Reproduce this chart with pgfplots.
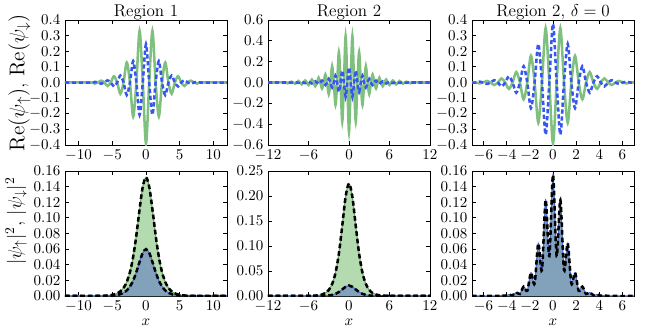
\RequirePackage{fix-cm}
\documentclass[border=0pt]{standalone}
\usepackage{pgfplots}
\pgfplotsset{compat=1.18}
\usepackage{pgfplotstable}

\definecolor{gline}{RGB}{127,192,127}
\definecolor{bline}{RGB}{55,85,240}
\definecolor{gfill}{RGB}{180,218,176}
\definecolor{bfill}{RGB}{130,162,188}
\definecolor{gedge}{RGB}{90,170,90}
\definecolor{bedge}{RGB}{70,105,215}

% Re(psi_up), Re(psi_down) -- region 1
\pgfplotstableread{
x g b
-12 0 0
-8.075 0 0
-7.6 -0.007 0.004
-7.125 0 0
-6.65 0.012 -0.008
-6.175 0 0
-5.7 -0.022 0.014
-5.225 0 0
-4.75 0.040 -0.025
-4.275 0 0
-3.8 -0.072 0.045
-3.325 0 0
-2.85 0.128 -0.080
-2.375 0 0
-1.9 -0.218 0.137
-1.425 0 0
-0.95 0.330 -0.207
-0.475 0 0
0 -0.390 0.245
0.475 0 0
0.95 0.330 -0.207
1.425 0 0
1.9 -0.218 0.137
2.375 0 0
2.85 0.128 -0.080
3.325 0 0
3.8 -0.072 0.045
4.275 0 0
4.75 0.040 -0.025
5.225 0 0
5.7 -0.022 0.014
6.175 0 0
6.65 0.012 -0.008
7.125 0 0
7.6 -0.007 0.004
8.075 0 0
12 0 0
}\wA

% region 2
\pgfplotstableread{
x g b
-12 0 0
-9.25 0 0
-9.0 -0.005 0.001
-8.75 0 0
-8.5 0.008 -0.002
-8.25 0 0
-8.0 -0.011 0.003
-7.75 0 0
-7.5 0.014 -0.004
-7.25 0 0
-7.0 -0.017 0.005
-6.75 0 0
-6.5 0.020 -0.006
-6.25 0 0
-6.0 -0.024 0.007
-5.75 0 0
-5.5 0.028 -0.009
-5.25 0 0
-5.0 -0.035 0.011
-4.75 0 0
-4.5 0.045 -0.014
-4.25 0 0
-4.0 -0.058 0.018
-3.75 0 0
-3.5 0.077 -0.024
-3.25 0 0
-3.0 -0.110 0.034
-2.75 0 0
-2.5 0.155 -0.047
-2.25 0 0
-2.0 -0.215 0.066
-1.75 0 0
-1.5 0.291 -0.089
-1.25 0 0
-1.0 -0.374 0.115
-0.75 0 0
-0.5 0.445 -0.136
-0.25 0 0
0 -0.474 0.145
0.25 0 0
0.5 0.445 -0.136
0.75 0 0
1.0 -0.374 0.115
1.25 0 0
1.5 0.291 -0.089
1.75 0 0
2.0 -0.215 0.066
2.25 0 0
2.5 0.155 -0.047
2.75 0 0
3.0 -0.110 0.034
3.25 0 0
3.5 0.077 -0.024
3.75 0 0
4.0 -0.058 0.018
4.25 0 0
4.5 0.045 -0.014
4.75 0 0
5.0 -0.035 0.011
5.25 0 0
5.5 0.028 -0.009
5.75 0 0
6.0 -0.024 0.007
6.25 0 0
6.5 0.020 -0.006
6.75 0 0
7.0 -0.017 0.005
7.25 0 0
7.5 0.014 -0.004
7.75 0 0
8.0 -0.011 0.003
8.25 0 0
8.5 0.008 -0.002
8.75 0 0
9.0 -0.005 0.001
9.25 0 0
12 0 0
}\wB

% region 2, delta = 0
\pgfplotstableread{
x g b
-7 0 0
-6.6675 0 0
-6.35 -0.006 0.006
-6.0325 0 0
-5.715 0.010 -0.009
-5.3975 0 0
-5.08 -0.016 0.015
-4.7625 0 0
-4.445 0.026 -0.025
-4.1275 0 0
-3.81 -0.041 0.040
-3.4925 0 0
-3.175 0.067 -0.065
-2.8575 0 0
-2.54 -0.108 0.104
-2.2225 0 0
-1.905 0.171 -0.164
-1.5875 0 0
-1.27 -0.257 0.247
-0.9525 0 0
-0.635 0.348 -0.334
-0.3175 0 0
0 -0.390 0.375
0.3175 0 0
0.635 0.348 -0.334
0.9525 0 0
1.27 -0.257 0.247
1.5875 0 0
1.905 0.171 -0.164
2.2225 0 0
2.54 -0.108 0.104
2.8575 0 0
3.175 0.067 -0.065
3.4925 0 0
3.81 -0.041 0.040
4.1275 0 0
4.445 0.026 -0.025
4.7625 0 0
5.08 -0.016 0.015
5.3975 0 0
5.715 0.010 -0.009
6.0325 0 0
6.35 -0.006 0.006
6.6675 0 0
7 0 0
}\wC

% densities
\pgfplotstableread{
x g b
-12 0 0
-7.0 0.0001 0
-6.0 0.0004 0.0002
-5.5 0.0008 0.0003
-5.0 0.0014 0.0006
-4.5 0.0026 0.0010
-4.0 0.0047 0.0019
-3.5 0.0085 0.0034
-3.0 0.0152 0.0060
-2.5 0.0267 0.0106
-2.0 0.0454 0.0179
-1.5 0.0731 0.0288
-1.0 0.1075 0.0424
-0.5 0.1388 0.0548
0 0.152 0.060
0.5 0.1388 0.0548
1.0 0.1075 0.0424
1.5 0.0731 0.0288
2.0 0.0454 0.0179
2.5 0.0267 0.0106
3.0 0.0152 0.0060
3.5 0.0085 0.0034
4.0 0.0047 0.0019
4.5 0.0026 0.0010
5.0 0.0014 0.0006
5.5 0.0008 0.0003
6.0 0.0004 0.0002
7.0 0.0001 0
12 0 0
}\dA

\pgfplotstableread{
x g b
-12 0 0
-6.0 0.0001 0
-5.5 0.0003 0
-5.0 0.0007 0
-4.5 0.0014 0.0001
-4.0 0.0029 0.0003
-3.5 0.0060 0.0006
-3.0 0.0120 0.0011
-2.5 0.0239 0.0022
-2.0 0.0462 0.0043
-1.5 0.0846 0.0079
-1.0 0.1404 0.0131
-0.5 0.1986 0.0185
0 0.225 0.021
0.5 0.1986 0.0185
1.0 0.1404 0.0131
1.5 0.0846 0.0079
2.0 0.0462 0.0043
2.5 0.0239 0.0022
3.0 0.0120 0.0011
3.5 0.0060 0.0006
4.0 0.0029 0.0003
4.5 0.0014 0.0001
5.0 0.0007 0
5.5 0.0003 0
6.0 0.0001 0
12 0 0
}\dB

\pgfplotstableread{
x d
-7 0
-5.5 0
-5.08 0.0002
-4.7625 0.0001
-4.445 0.0007
-4.1275 0.0004
-3.81 0.0018
-3.4925 0.0010
-3.175 0.0046
-2.8575 0.0026
-2.54 0.0120
-2.2225 0.0067
-1.905 0.0298
-1.5875 0.0160
-1.27 0.0674
-0.9525 0.0331
-0.635 0.123
-0.3175 0.0511
0 0.155
0.3175 0.0511
0.635 0.123
0.9525 0.0331
1.27 0.0674
1.5875 0.0160
1.905 0.0298
2.2225 0.0067
2.54 0.0120
2.8575 0.0026
3.175 0.0046
3.4925 0.0010
3.81 0.0018
4.1275 0.0004
4.445 0.0007
4.7625 0.0001
5.08 0.0002
5.5 0
7 0
}\dC

\pgfplotsset{
  every axis title/.style={at={(0.5,1)}, anchor=base, yshift=2.6pt,
    font=\fontsize{12.8}{14}\selectfont},
  panel/.style={
    scale only axis, width=121.5pt, height=93.75pt,
    anchor=north west,
    axis line style={black, line width=0.7pt},
    tick style={black, line width=0.6pt},
    major tick length=3pt, tick align=inside,
    tick label style={font=\fontsize{11.25}{12}\selectfont},
  },
  wave/.style={panel, yticklabel style={/pgf/number format/.cd, fixed, fixed zerofill, precision=1}},
  dens/.style={panel, ymin=0,
    yticklabel style={/pgf/number format/.cd, fixed, fixed zerofill, precision=2},
    xlabel={$x$},
    xlabel style={font=\fontsize{11.25}{12}\selectfont, at={(axis description cs:0.5,-0.235)}, anchor=base}},
  gwave/.style={gline, line width=1.9pt, smooth},
  bwave/.style={bline, line width=1.9pt, smooth, dash pattern=on 3.2pt off 2pt},
  kdash/.style={black, line width=1.9pt, smooth, dash pattern=on 3.5pt off 2.2pt},
}

\begin{document}
\begin{tikzpicture}
% ---- top row: real parts ----
\begin{axis}[wave, at={(0pt,0pt)}, xmin=-12, xmax=12, ymin=-0.4, ymax=0.4,
  xtick={-10,-5,0,5,10}, ytick={-0.4,-0.3,-0.2,-0.1,0,0.1,0.2,0.3,0.4},
  title={Region 1},
  ylabel={$\mathrm{Re}(\psi_\uparrow)$, $\mathrm{Re}(\psi_\downarrow)$},
  ylabel style={font=\fontsize{16}{18}\selectfont, at={(axis description cs:-0.25,0.5)}, anchor=base}]
\addplot[gwave] table[x=x,y=g]{\wA};
\addplot[bwave] table[x=x,y=b]{\wA};
\end{axis}

\begin{axis}[wave, at={(152.25pt,0pt)}, xmin=-12, xmax=12, ymin=-0.6, ymax=0.6,
  xtick={-12,-6,0,6,12}, ytick={-0.6,-0.4,-0.2,0,0.2,0.4,0.6},
  title={Region 2}]
\addplot[gwave] table[x=x,y=g]{\wB};
\addplot[bwave] table[x=x,y=b]{\wB};
\end{axis}

\begin{axis}[wave, at={(305.25pt,0pt)}, xmin=-7, xmax=7, ymin=-0.4, ymax=0.4,
  xtick={-6,-4,-2,0,2,4,6}, ytick={-0.4,-0.3,-0.2,-0.1,0,0.1,0.2,0.3,0.4},
  title={Region 2, $\delta=0$}]
\addplot[gwave] table[x=x,y=g]{\wC};
\addplot[bwave] table[x=x,y=b]{\wC};
\end{axis}

% ---- bottom row: densities ----
\begin{axis}[dens, at={(0pt,-113.25pt)}, xmin=-12, xmax=12, ymax=0.16,
  xtick={-10,-5,0,5,10}, ytick={0,0.02,0.04,0.06,0.08,0.10,0.12,0.14,0.16},
  ylabel={$|\psi_\uparrow|^2$, $|\psi_\downarrow|^2$},
  ylabel style={font=\fontsize{14.5}{16}\selectfont, at={(axis description cs:-0.27,0.6)}, anchor=base}]
\addplot[fill=gfill, draw=none, smooth] table[x=x,y=g]{\dA} \closedcycle;
\addplot[fill=bfill, draw=none, smooth] table[x=x,y=b]{\dA} \closedcycle;
\addplot[gedge, line width=0.8pt, smooth] table[x=x,y=g]{\dA};
\addplot[bedge, line width=0.8pt, smooth] table[x=x,y=b]{\dA};
\addplot[kdash] table[x=x,y=g]{\dA};
\addplot[kdash] table[x=x,y=b]{\dA};
\end{axis}

\begin{axis}[dens, at={(152.25pt,-113.25pt)}, xmin=-12, xmax=12, ymax=0.25,
  xtick={-12,-6,0,6,12}, ytick={0,0.05,0.10,0.15,0.20,0.25}]
\addplot[fill=gfill, draw=none, smooth] table[x=x,y=g]{\dB} \closedcycle;
\addplot[fill=bfill, draw=none, smooth] table[x=x,y=b]{\dB} \closedcycle;
\addplot[gedge, line width=0.8pt, smooth] table[x=x,y=g]{\dB};
\addplot[bedge, line width=0.8pt, smooth] table[x=x,y=b]{\dB};
\addplot[kdash] table[x=x,y=g]{\dB};
\addplot[kdash] table[x=x,y=b]{\dB};
\end{axis}

\begin{axis}[dens, at={(305.25pt,-113.25pt)}, xmin=-7, xmax=7, ymax=0.16,
  xtick={-6,-4,-2,0,2,4,6}, ytick={0,0.02,0.04,0.06,0.08,0.10,0.12,0.14,0.16}]
\addplot[fill=gfill, draw=none, smooth] table[x=x,y=d]{\dC} \closedcycle;
\addplot[fill=bfill, draw=none, smooth] table[x=x,y=d]{\dC} \closedcycle;
\addplot[bedge, line width=0.8pt, smooth] table[x=x,y=d]{\dC};
\addplot[kdash] table[x=x,y=d]{\dC};
\end{axis}

\pgfresetboundingbox
\path[use as bounding box] (-48.75pt,15pt) rectangle (441.75pt,-232.5pt);
\end{tikzpicture}
\end{document}
